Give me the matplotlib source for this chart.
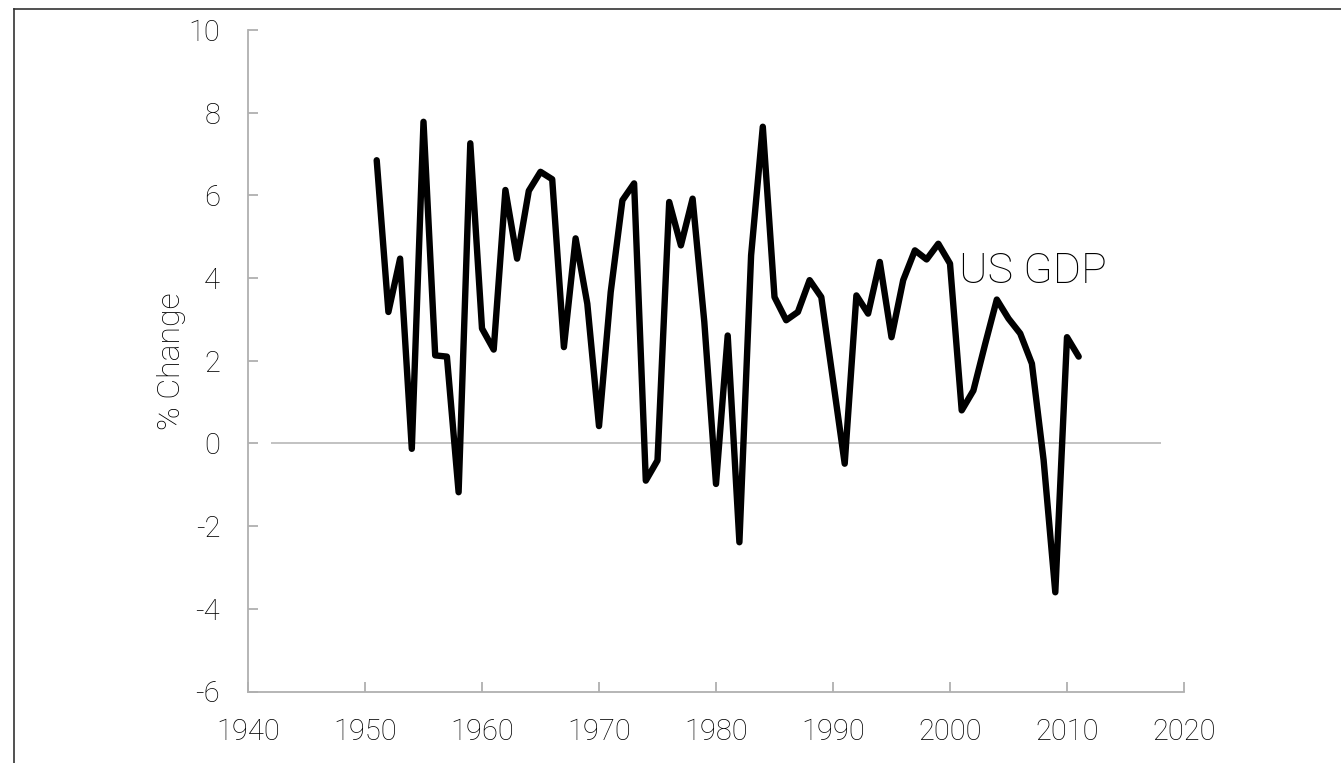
import matplotlib
matplotlib.use("Agg")
import matplotlib.pyplot as plt
from matplotlib.lines import Line2D

plt.rcParams['font.family'] = ['Roboto', 'DejaVu Sans']
plt.rcParams['font.weight'] = 'light'
plt.rcParams['axes.labelweight'] = 'light'
plt.rcParams['axes.unicode_minus'] = False

years = list(range(1951, 2012))
gdp_change = [6.85, 3.18, 4.47, -0.13, 7.78, 2.13, 2.10, -1.18, 7.26, 2.78,
              2.27, 6.13, 4.47, 6.11, 6.57, 6.39, 2.33, 4.96, 3.38, 0.42,
              3.66, 5.88, 6.29, -0.90, -0.41, 5.84, 4.79, 5.92, 2.94, -0.98,
              2.61, -2.39, 4.55, 7.66, 3.54, 2.98, 3.18, 3.95, 3.54, 1.53,
              -0.49, 3.58, 3.14, 4.39, 2.57, 3.95, 4.67, 4.45, 4.83, 4.35,
              0.80, 1.28, 2.40, 3.48, 3.02, 2.66, 1.93, -0.40, -3.60, 2.57,
              2.10]
xticks = list(range(1940, 2021, 10))
yticks = list(range(-6, 11, 2))

fig = plt.figure(figsize=(13.41, 7.63), dpi=100)
ax = fig.add_axes([248 / 1341, 1 - 691.5 / 763, 936 / 1341, 661.5 / 763])

ax.hlines(0, 1942, 2018, color='#b8b8b8', lw=1.2, zorder=1)
ax.plot(years, gdp_change, color='black', lw=4.6,
        solid_joinstyle='round', solid_capstyle='round', zorder=2)

ax.text(2000.75, 3.87, "US GDP", fontsize=31, va='baseline', ha='left', color='black')

ax.set_xlim(1940, 2020)
ax.set_ylim(-6, 10)
ax.set_xticks(xticks)
ax.set_yticks(yticks)
ax.spines['top'].set_visible(False)
ax.spines['right'].set_visible(False)
for s in ['left', 'bottom']:
    ax.spines[s].set_color('#b0b0b0')
    ax.spines[s].set_linewidth(1.3)
ax.tick_params(direction='in', length=7, width=1.3, color='#b0b0b0',
               labelsize=21, labelcolor='black')
ax.tick_params(axis='y', pad=20)
ax.tick_params(axis='x', pad=19)
ax.set_ylabel("% Change", fontsize=23, color='black', fontweight='light', labelpad=2)

# frame around the slide area
fig.add_artist(Line2D([14 / 1341, 14 / 1341], [0, 1 - 8.5 / 763], color='#333333', lw=1.2))
fig.add_artist(Line2D([14 / 1341, 1], [1 - 8.5 / 763, 1 - 8.5 / 763], color='#333333', lw=1.2))

plt.savefig("out.png", dpi=100)
